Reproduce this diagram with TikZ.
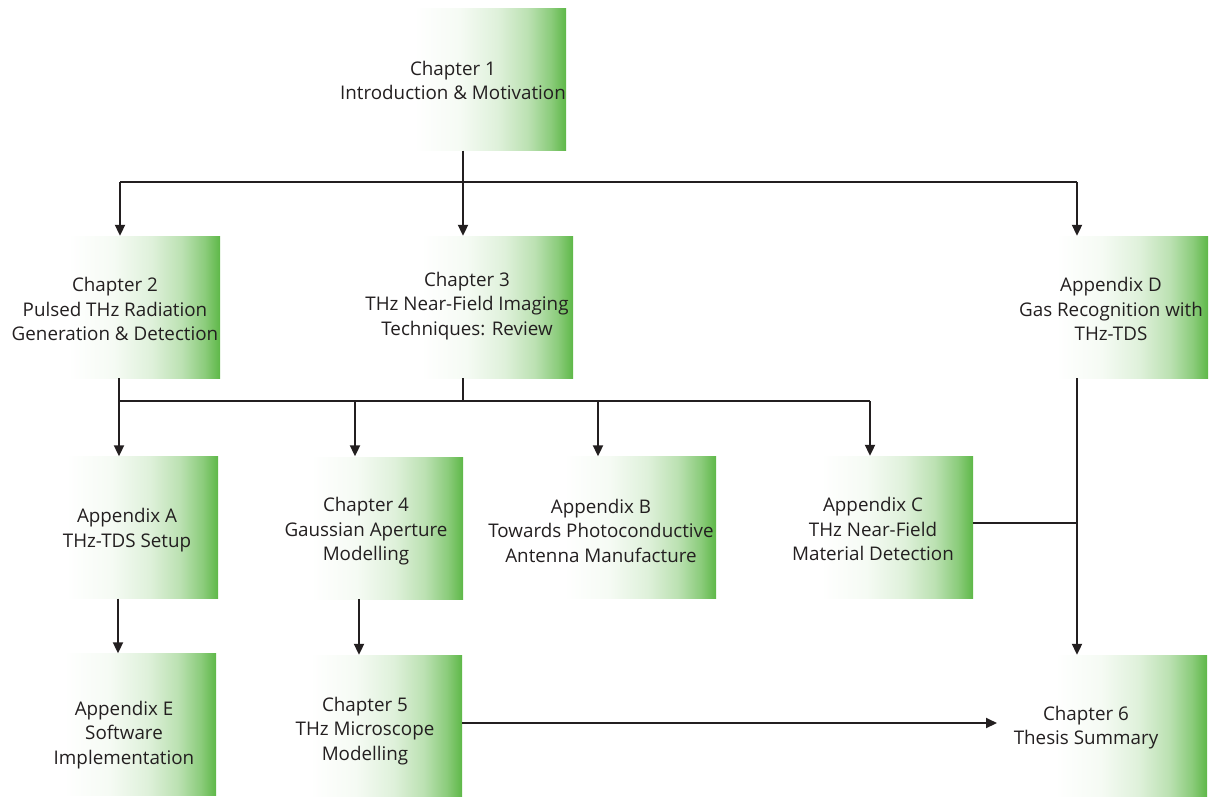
\documentclass[tikz,border=0pt]{standalone}
\usepackage{fontspec}
\setmainfont{Open Sans}
\usetikzlibrary{arrows.meta,calc}
\definecolor{leaf}{RGB}{94,184,72}
\definecolor{ink}{RGB}{35,31,32}
% white-to-green fade used for every chapter block
\pgfdeclarehorizontalshading{boxfade}{100bp}{%
  color(0bp)=(white); color(25bp)=(white);
  color(40bp)=(leaf!6); color(52.5bp)=(leaf!20);
  color(62.5bp)=(leaf!42); color(70bp)=(leaf!72);
  color(75bp)=(leaf); color(100bp)=(leaf)}
\tikzset{
  chapbox/.style={rectangle, inner sep=0pt, minimum width=152pt, minimum height=142pt, shading=boxfade},
  chaptext/.style={align=center, text=ink, font=\fontsize{18.8}{24.5}\selectfont, inner sep=0pt},
  link/.style={draw=ink, line width=2pt},
  flow/.style={link, -{Triangle[length=11pt,width=10pt]}}
}
\begin{document}
\begin{tikzpicture}[x=1pt,y=-1pt]
\useasboundingbox (0,0) rectangle (1210,796);

% blocks
\node[chapbox] (c1) at (490,79.5) {};
\node[chapbox] (c2) at (144,307) {};
\node[chapbox] (c3) at (497,307) {};
\node[chapbox] (aD) at (1132,307) {};
\node[chapbox] (aA) at (142,527.5) {};
\node[chapbox] (c4) at (387,528) {};
\node[chapbox] (aB) at (640,527.5) {};
\node[chapbox] (aC) at (897,527) {};
\node[chapbox] (aE) at (140,724.5) {};
\node[chapbox] (c5) at (386,726) {};
\node[chapbox] (c6) at (1131,726) {};

% block titles
\node[chaptext] (t1) at (453,80.5) {Chapter 1\\Introduction \& Motivation};
\node[chaptext] (t2) at (115,309) {Chapter 2\\Pulsed THz Radiation\\Generation \& Detection};
\node[chaptext] (t3) at (467,306) {Chapter 3\\THz Near-Field Imaging\\Techniques: Review};
\node[chaptext] (tD) at (1111,309) {Appendix D\\Gas Recognition with\\THz-TDS};
\node[chaptext] (tA) at (127,530) {Appendix A\\THz-TDS Setup};
\node[chaptext] (t4) at (366,531.5) {Chapter 4\\Gaussian Aperture\\Modelling};
\node[chaptext] (tB) at (601,530.5) {Appendix B\\Towards Photoconductive\\Antenna Manufacture};
\node[chaptext] (tC) at (873,529) {Appendix C\\THz Near-Field\\Material Detection};
\node[chaptext] (tE) at (124,735) {Appendix E\\Software\\Implementation};
\node[chaptext] (t5) at (365,731) {Chapter 5\\THz Microscope\\Modelling};
\node[chaptext] (t6) at (1086,727.5) {Chapter 6\\Thesis Summary};

% junction points of the connector network
\coordinate (busL) at (120,182);
\coordinate (busR) at (1077,182);
\coordinate (midL) at (119,401);
\coordinate (midR) at (870,401);
\coordinate (joinC) at (1077,523);
\coordinate (sumIn) at (997,723);

% Chapter 1 fans out
\draw[flow] (c1.south -| 463,0) -- (c3.north -| 463,0);
\draw[link] (busL) -- (busR);
\draw[flow] (busL) -- (busL |- c2.north);
\draw[flow] (busR) -- (busR |- aD.north);

% Chapters 2 and 3 feed the second row
\draw[link] (c2.south -| midL) -- (midL);
\draw[link] (c3.south -| 463,0) -- (463,401);
\draw[link] (midL) -- (midR);
\draw[flow] (midL) -- (midL |- aA.north);
\draw[flow] (355,401) -- (aA.north -| 355,0);
\draw[flow] (598,401) -- (aB.north -| 598,0);
\draw[flow] (midR) -- (midR |- aC.north);

% third row
\draw[flow] (aA.south -| 118,0) -- (aE.north -| 118,0);
\draw[flow] (c4.south -| 359,0) -- (c5.north -| 359,0);
\draw[flow] (aD.south -| joinC) -- (joinC |- c6.north);
\draw[link] (aC.east |- joinC) -- (joinC);
\draw[flow] (c5.east |- sumIn) -- (sumIn);
\end{tikzpicture}
\end{document}
